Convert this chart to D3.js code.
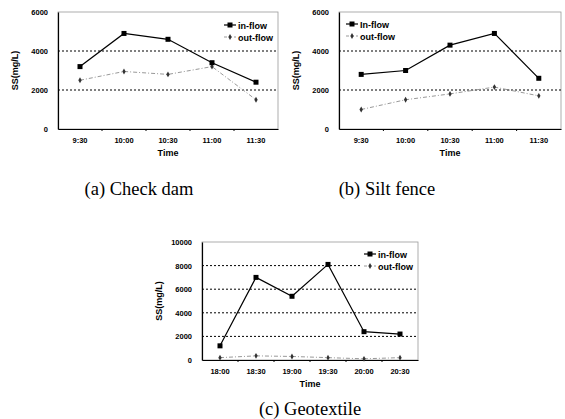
<!DOCTYPE html>
<html>
<head>
<meta charset="utf-8">
<script src="https://cdn.jsdelivr.net/npm/d3@7"></script>
<style>
body { margin: 0; background: #fff; }
svg { display: block; }
.tick-label { font-family: 'Liberation Sans', Arial, sans-serif; font-weight: bold; font-size: 7.5px; }
.axis-title { font-family: 'Liberation Sans', Arial, sans-serif; font-weight: bold; font-size: 9px; }
.legend { font-family: 'Liberation Sans', Arial, sans-serif; font-weight: bold; font-size: 9px; }
.caption { font-family: 'Liberation Serif', 'DejaVu Serif', serif; font-size: 18.5px; }
</style>
</head>
<body>
<div id="chart"></div>
<script>
// data
var timesA = ['9:30', '10:00', '10:30', '11:00', '11:30'];
var inflowA = [3200, 4900, 4600, 3400, 2400];
var outflowA = [2500, 2950, 2800, 3200, 1500];

var timesB = ['9:30', '10:00', '10:30', '11:00', '11:30'];
var inflowB = [2800, 3000, 4300, 4900, 2600];
var outflowB = [1000, 1500, 1800, 2150, 1700];

var timesC = ['18:00', '18:30', '19:00', '19:30', '20:00', '20:30'];
var inflowC = [1200, 7000, 5400, 8100, 2400, 2200];
var outflowC = [200, 350, 300, 200, 100, 200];

var ticksAB = [0, 2000, 4000, 6000];
var ticksC = [0, 2000, 4000, 6000, 8000, 10000];

var svg = d3.select('#chart').append('svg')
    .attr('width', 565)
    .attr('height', 419);

var panels = [
    { times: timesA, inflow: inflowA, outflow: outflowA, ticks: ticksAB, inName: 'in-flow',
      left: 58, top: 12, width: 220, height: 117, legendX: 224, legendY: 25,
      caption: '(a) Check dam', capX: 139, capY: 195 },
    { times: timesB, inflow: inflowB, outflow: outflowB, ticks: ticksAB, inName: 'In-flow',
      left: 339, top: 12, width: 222, height: 117, legendX: 346, legendY: 24,
      caption: '(b) Silt fence', capX: 387, capY: 195 },
    { times: timesC, inflow: inflowC, outflow: outflowC, ticks: ticksC, inName: 'in-flow',
      left: 202, top: 242, width: 216, height: 118, legendX: 364, legendY: 254,
      caption: '(c) Geotextile', capX: 310, capY: 415 }
];

panels.forEach(drawPanel);

function drawPanel(p) {
    var g = svg.append('g')
        .attr('transform', 'translate(' + p.left + ',' + p.top + ')');

    var x = d3.scaleBand()
        .domain(p.times)
        .range([0, p.width]);

    var y = d3.scaleLinear()
        .domain([0, d3.max(p.ticks)])
        .range([p.height, 0]);

    // plot frame
    g.append('rect')
        .attr('width', p.width)
        .attr('height', p.height)
        .attr('fill', 'none')
        .attr('stroke', '#999')
        .attr('stroke-width', 0.8);

    // dotted grid lines
    g.selectAll('.grid')
        .data(p.ticks.slice(1, -1))
        .enter()
        .append('line')
        .attr('class', 'grid')
        .attr('x1', 0)
        .attr('x2', p.width)
        .attr('y1', d => y(d))
        .attr('y2', d => y(d))
        .attr('stroke', '#000')
        .attr('stroke-width', 1)
        .attr('stroke-dasharray', '2,2');

    var yAxis = d3.axisLeft(y)
        .tickValues(p.ticks)
        .tickSize(0)
        .tickPadding(10)
        .tickFormat(d3.format('d'));

    var ya = g.append('g').call(yAxis);
    ya.select('.domain').attr('stroke', '#000').attr('stroke-width', 1.2);
    ya.selectAll('text').attr('class', 'tick-label').attr('fill', '#000');

    var xAxis = d3.axisBottom(x)
        .tickSize(0)
        .tickPadding(9);

    var xa = g.append('g')
        .attr('transform', 'translate(0,' + p.height + ')')
        .call(xAxis);
    xa.select('.domain').attr('stroke', '#000').attr('stroke-width', 1.2);
    xa.selectAll('text').attr('class', 'tick-label').attr('fill', '#000');

    // small marks between categories
    g.selectAll('.xmark')
        .data(p.times.slice(1))
        .enter()
        .append('line')
        .attr('x1', d => x(d))
        .attr('x2', d => x(d))
        .attr('y1', p.height)
        .attr('y2', p.height + 2)
        .attr('stroke', '#000');

    g.append('text')
        .attr('class', 'axis-title')
        .attr('x', p.width / 2)
        .attr('y', p.height + 27)
        .attr('text-anchor', 'middle')
        .text('Time');

    g.append('text')
        .attr('class', 'axis-title')
        .attr('transform', 'rotate(-90)')
        .attr('x', -p.height / 2)
        .attr('y', -40)
        .attr('text-anchor', 'middle')
        .text('SS(mg/L)');

    var cx = d => x(d) + x.bandwidth() / 2;

    var line = d3.line()
        .x((d, i) => cx(p.times[i]))
        .y(d => y(d));

    // out-flow
    g.append('path')
        .datum(p.outflow)
        .attr('d', line)
        .attr('fill', 'none')
        .attr('stroke', '#999')
        .attr('stroke-width', 1)
        .attr('stroke-dasharray', '4,2,1,2');

    g.selectAll('.omark')
        .data(p.outflow)
        .enter()
        .append('path')
        .attr('d', d3.symbol(d3.symbolDiamond, 10))
        .attr('transform', (d, i) => 'translate(' + cx(p.times[i]) + ',' + y(d) + ')')
        .attr('fill', '#333');

    // in-flow
    g.append('path')
        .datum(p.inflow)
        .attr('d', line)
        .attr('fill', 'none')
        .attr('stroke', '#000')
        .attr('stroke-width', 1.2);

    g.selectAll('.imark')
        .data(p.inflow)
        .enter()
        .append('rect')
        .attr('x', (d, i) => cx(p.times[i]) - 2.5)
        .attr('y', d => y(d) - 2.5)
        .attr('width', 5)
        .attr('height', 5)
        .attr('fill', '#000');

    // legend (white box hides the grid behind it)
    var lg = svg.append('g')
        .attr('transform', 'translate(' + p.legendX + ',' + p.legendY + ')');

    lg.append('rect')
        .attr('x', -2).attr('y', -6)
        .attr('width', 54).attr('height', 25)
        .attr('fill', '#fff');

    lg.append('line')
        .attr('x1', 0).attr('x2', 12)
        .attr('stroke', '#000').attr('stroke-width', 1.2);
    lg.append('rect')
        .attr('x', 3.5).attr('y', -2.5)
        .attr('width', 5).attr('height', 5)
        .attr('fill', '#000');
    lg.append('text')
        .attr('class', 'legend')
        .attr('x', 14).attr('y', 3.5)
        .text(p.inName);

    lg.append('line')
        .attr('x1', 0).attr('x2', 12)
        .attr('y1', 12).attr('y2', 12)
        .attr('stroke', '#999').attr('stroke-dasharray', '3,2');
    lg.append('path')
        .attr('d', d3.symbol(d3.symbolDiamond, 10))
        .attr('transform', 'translate(6,12)')
        .attr('fill', '#333');
    lg.append('text')
        .attr('class', 'legend')
        .attr('x', 14).attr('y', 15.5)
        .text('out-flow');

    svg.append('text')
        .attr('class', 'caption')
        .attr('x', p.capX)
        .attr('y', p.capY)
        .attr('text-anchor', 'middle')
        .text(p.caption);
}
</script>
</body>
</html>
